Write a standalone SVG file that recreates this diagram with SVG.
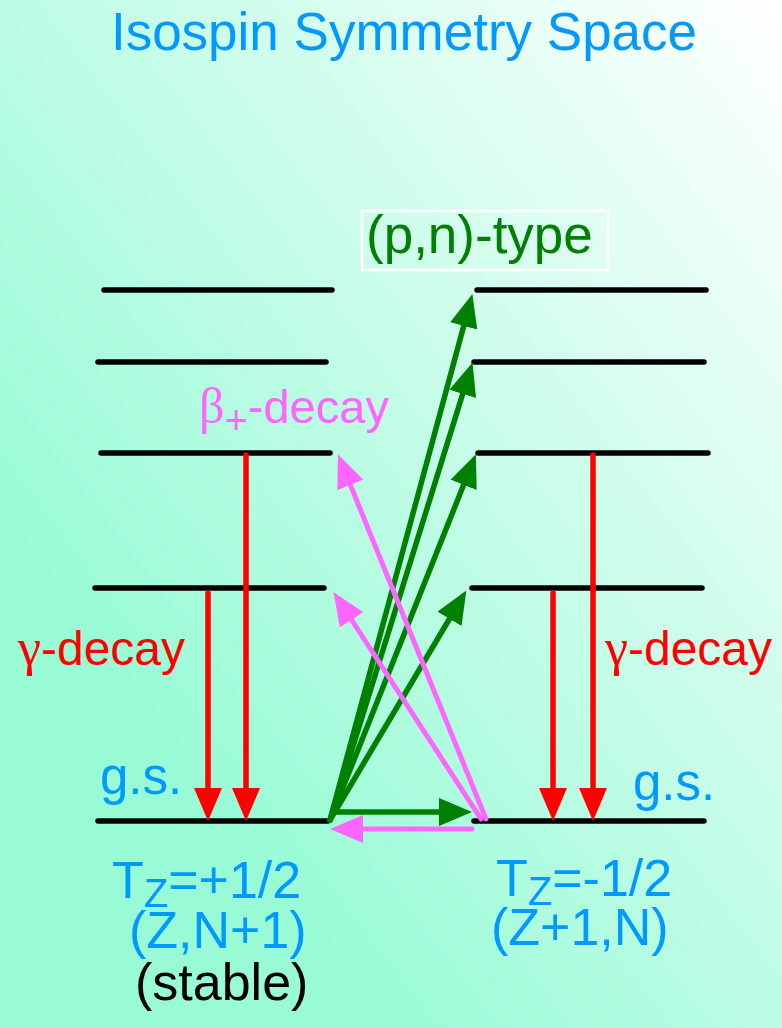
<svg xmlns="http://www.w3.org/2000/svg" width="782" height="1028" viewBox="0 0 782 1028">
<defs>
<linearGradient id="bg" x1="1" y1="0" x2="0.25" y2="0.75">
<stop offset="0" stop-color="#ffffff"/>
<stop offset="1" stop-color="#99fbd6"/>
</linearGradient>
<marker id="ag" markerUnits="userSpaceOnUse" markerWidth="36" markerHeight="30" refX="1" refY="14" orient="auto" viewBox="0 0 36 30">
<path d="M0,0 L33,14 L0,28 z" fill="#008000"/>
</marker>
<marker id="am" markerUnits="userSpaceOnUse" markerWidth="36" markerHeight="30" refX="1" refY="14" orient="auto" viewBox="0 0 36 30">
<path d="M0,0 L33,14 L0,28 z" fill="#ff66ff"/>
</marker>
<marker id="ar" markerUnits="userSpaceOnUse" markerWidth="36" markerHeight="30" refX="1" refY="14" orient="auto" viewBox="0 0 36 30">
<path d="M0,0 L33,14 L0,28 z" fill="#ff0000"/>
</marker>
</defs>
<style>
.lvl{stroke:#000;stroke-width:5.5;stroke-linecap:round;fill:none}
.g{stroke:#008000;stroke-width:5.5;stroke-linecap:round;fill:none;marker-end:url(#ag)}
.m{stroke:#ff66ff;stroke-width:5;stroke-linecap:round;fill:none;marker-end:url(#am)}
.r{stroke:#ff0000;stroke-width:5.5;stroke-linecap:round;fill:none;marker-end:url(#ar)}
.t{font-family:"Liberation Sans",Arial,sans-serif}
.blue{fill:#0099ff}
.sym{font-family:"Liberation Serif","DejaVu Serif",serif}
</style>
<rect x="0" y="0" width="782" height="1028" fill="url(#bg)"/>
<g id="title"><text class="t blue" x="404" y="50" font-size="53" text-anchor="middle">Isospin Symmetry Space</text></g>

<g id="left-levels">
<line class="lvl" x1="104" y1="290" x2="332" y2="290"/>
<line class="lvl" x1="98" y1="362" x2="326" y2="362"/>
<line class="lvl" x1="101" y1="453" x2="330" y2="453"/>
<line class="lvl" x1="95" y1="588" x2="324" y2="588"/>
<line class="lvl" x1="98" y1="821" x2="328" y2="821"/>
</g>
<g id="right-levels">
<line class="lvl" x1="477" y1="290" x2="706" y2="290"/>
<line class="lvl" x1="474" y1="362" x2="704" y2="362"/>
<line class="lvl" x1="478" y1="453" x2="708" y2="453"/>
<line class="lvl" x1="472" y1="588" x2="702" y2="588"/>
<line class="lvl" x1="474" y1="821" x2="704" y2="821"/>
</g>

<g id="connectors">
<line class="r" x1="208" y1="593" x2="208" y2="789"/>
<line class="r" x1="246" y1="455" x2="246" y2="789"/>
<line class="r" x1="553" y1="593" x2="553" y2="789"/>
<line class="r" x1="593" y1="455" x2="593" y2="789"/>
<line class="g" x1="330" y1="820" x2="464" y2="325"/>
<line class="g" x1="330" y1="820" x2="463" y2="393"/>
<line class="g" x1="330" y1="820" x2="464" y2="484"/>
<line class="g" x1="330" y1="820" x2="450" y2="618"/>
<line class="g" x1="336" y1="812" x2="440" y2="812"/>
<line class="m" x1="486" y1="819" x2="350" y2="484"/>
<line class="m" x1="481" y1="819" x2="351" y2="619"/>
<line class="m" x1="472" y1="829" x2="362" y2="829"/>
</g>

<g id="pn-label">
<rect x="362" y="211" width="246" height="59" fill="none" stroke="#ffffff" stroke-width="2.5"/>
<text class="t" x="366" y="253" font-size="53" fill="#008000">(p,n)-type</text>
</g>
<g id="beta-label">
<text class="t" x="199" y="423" font-size="47" fill="#ff66ff"><tspan class="sym" font-size="50">β</tspan><tspan font-size="40" dy="11">+</tspan><tspan dy="-11">-decay</tspan></text>
</g>
<g id="gamma-left"><text class="t" x="18" y="665" font-size="48" fill="#ff0000"><tspan class="sym" font-size="52">γ</tspan>-decay</text></g>
<g id="gamma-right"><text class="t" x="605" y="665" font-size="48" fill="#ff0000"><tspan class="sym" font-size="52">γ</tspan>-decay</text></g>
<g id="gs-left"><text class="t blue" x="100" y="794" font-size="51">g.s.</text></g>
<g id="gs-right"><text class="t blue" x="633" y="800" font-size="51">g.s.</text></g>
<g id="left-nucleus">
<text class="t blue" x="112" y="898" font-size="52">T<tspan font-size="40" dy="9">Z</tspan><tspan dy="-9">=+1/2</tspan></text>
<text class="t blue" x="129" y="948" font-size="52">(Z,N+1)</text>
<text class="t" x="135" y="1000" font-size="52" fill="#000">(stable)</text>
</g>
<g id="right-nucleus">
<text class="t blue" x="496" y="896" font-size="52">T<tspan font-size="40" dy="9">Z</tspan><tspan dy="-9">=-1/2</tspan></text>
<text class="t blue" x="491" y="945" font-size="52">(Z+1,N)</text>
</g>
</svg>
